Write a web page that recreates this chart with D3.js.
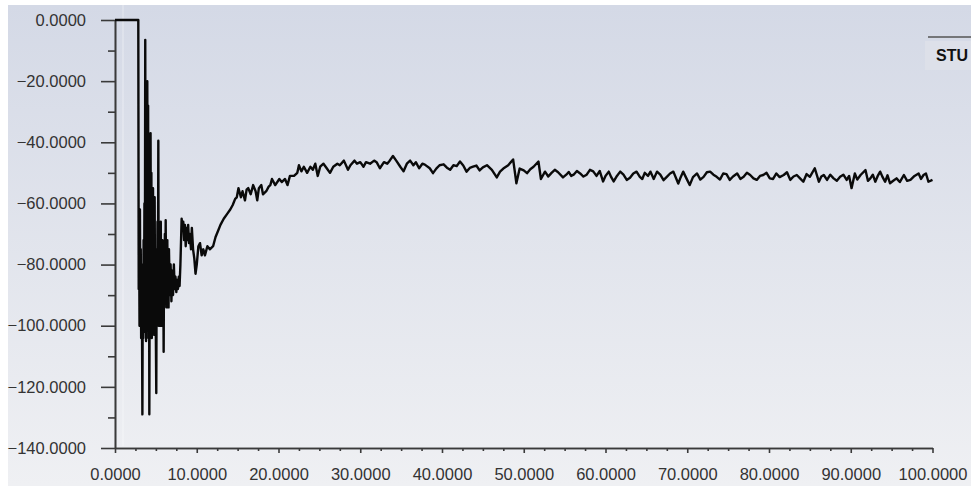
<!DOCTYPE html>
<html>
<head>
<meta charset="utf-8">
<script src="https://cdn.jsdelivr.net/npm/d3@7"></script>
<style>
  html, body { margin: 0; padding: 0; background: #ffffff; }
  svg { display: block; }
</style>
</head>
<body>
<svg id="chart" width="971" height="486"></svg>
<script>
// ---- data: [flow time, value] ----
const pressureReadings = [
  [0, 0], [2.85, 0],
  [2.9, -88], [2.95, -70], [3.0, -100], [3.05, -62], [3.1, -96], [3.15, -75], [3.2, -104], [3.25, -80],
  [3.3, -98], [3.35, -129], [3.4, -85], [3.45, -104], [3.5, -72], [3.55, -100], [3.6, -60], [3.65, -102],
  [3.7, -6.5], [3.75, -90], [3.8, -105], [3.85, -30], [3.9, -95], [3.95, -20], [4.0, -100], [4.05, -28],
  [4.1, -104], [4.15, -45], [4.2, -129], [4.25, -80], [4.3, -102], [4.35, -37], [4.4, -98], [4.45, -50],
  [4.5, -104], [4.55, -66], [4.6, -98], [4.65, -55], [4.7, -100], [4.75, -72], [4.8, -103], [4.85, -58],
  [4.9, -96], [4.95, -75], [5.0, -104], [5.05, -122], [5.1, -80], [5.15, -98], [5.2, -66], [5.25, -92],
  [5.3, -39.5], [5.35, -100], [5.4, -70], [5.45, -95], [5.5, -75], [5.55, -100], [5.6, -66], [5.65, -92],
  [5.7, -78], [5.75, -100], [5.8, -72], [5.85, -95], [5.9, -80], [5.95, -108.5], [6.0, -78], [6.05, -94],
  [6.1, -70], [6.15, -92], [6.2, -65.5], [6.25, -88], [6.3, -76], [6.35, -94], [6.4, -72], [6.45, -90],
  [6.5, -78], [6.55, -94], [6.6, -75], [6.7, -90], [6.8, -80], [6.9, -92], [7.0, -82], [7.1, -90],
  [7.2, -80], [7.3, -88], [7.4, -84], [7.5, -89], [7.6, -85], [7.7, -88], [7.8, -84], [7.9, -87],
  [8.0, -80], [8.15, -65], [8.25, -68], [8.35, -66], [8.45, -72], [8.55, -67], [8.65, -74], [8.75, -68],
  [8.85, -72], [8.95, -67], [9.05, -73], [9.15, -70], [9.3, -75], [9.4, -68], [9.55, -75], [9.7, -78],
  [9.85, -83], [10.0, -80], [10.2, -74], [10.4, -73], [10.6, -77], [10.8, -75], [11.0, -77], [11.3, -74],
  [11.6, -75], [12.0, -74], [12.3, -71], [12.6, -69], [12.9, -67], [13.3, -65], [13.7, -63.5], [14.1, -62],
  [14.4, -60.5], [14.7, -58.5], [14.9, -58], [15.1, -55], [15.4, -58], [15.6, -56], [15.9, -59], [16.1, -55.5],
  [16.3, -55], [16.6, -57], [16.9, -54], [17.2, -56], [17.4, -59], [17.6, -55], [17.9, -54], [18.1, -57],
  [18.5, -56], [18.8, -54.5], [19.0, -54], [19.2, -52], [19.6, -54], [20.1, -52], [20.4, -53], [20.8, -52],
  [21.1, -54], [21.4, -51], [21.9, -51], [22.3, -50], [22.5, -47.5], [22.8, -49.5], [23.1, -48], [23.5, -50],
  [23.9, -48], [24.2, -49], [24.5, -47], [24.8, -51], [25.1, -48], [25.5, -47], [25.9, -48.5], [26.3, -50],
  [26.7, -48], [27.2, -47], [27.5, -47.5], [28.0, -46], [28.5, -49], [28.8, -47.5], [29.3, -46], [29.6, -47],
  [30.0, -46.5], [30.4, -48], [30.7, -46.5], [31.2, -47], [31.7, -46], [32.0, -46.5], [32.4, -48.5], [32.9, -46.5],
  [33.3, -47], [33.6, -46], [34.0, -44.5], [34.4, -46], [34.9, -48], [35.3, -49.5], [35.7, -47], [36.1, -46],
  [36.5, -47.5], [36.8, -46.5], [37.2, -48.5], [37.6, -47], [37.9, -47.3], [38.5, -48.5], [38.9, -50.1], [39.3, -48.6],
  [39.7, -47.5], [40.2, -47.2], [40.6, -48.3], [41.0, -49.0], [41.4, -47.5], [41.8, -47.8], [42.2, -46.3], [42.6, -47.6],
  [43.0, -49.6], [43.4, -48.4], [43.8, -48], [44.2, -47.6], [44.6, -49.2], [45.0, -48.2], [45.5, -47.5], [46.1, -49],
  [46.7, -51.5], [47.1, -49.6], [47.5, -48.6], [48.1, -47.5], [48.7, -45.6], [49.1, -53.4], [49.5, -48.6], [50.0, -49.2],
  [50.4, -50.1], [50.8, -48.8], [51.2, -48], [51.8, -46.3], [52.1, -52], [52.6, -49.6], [53.0, -51.2], [53.4, -50],
  [53.8, -49.0], [54.2, -49.8], [54.8, -51.5], [55.2, -50.6], [55.5, -49.7], [55.8, -51.0], [56.1, -50.6], [56.5, -49.4],
  [56.9, -50.2], [57.3, -51.2], [57.7, -50.6], [58.1, -49.0], [58.5, -49.5], [58.9, -51.0], [59.3, -49.4], [59.7, -52.8],
  [60.0, -51.0], [60.4, -49.6], [60.7, -51.4], [61.0, -52.8], [61.4, -51.0], [61.8, -49.6], [62.2, -50.6], [62.6, -52.3],
  [63.0, -51.6], [63.4, -50.2], [63.8, -49.6], [64.2, -51.3], [64.5, -52.0], [64.8, -50], [65.2, -51.0], [65.5, -49.6],
  [65.9, -52], [66.3, -49.6], [66.7, -50.6], [67.1, -52.4], [67.5, -51.3], [67.9, -50.2], [68.3, -49.6], [68.9, -53.5],
  [69.2, -51.4], [69.5, -49.6], [69.9, -51.8], [70.3, -54], [70.7, -51.4], [71.2, -50.2], [71.6, -52.2], [72.0, -51.3],
  [72.4, -49.8], [72.8, -49.6], [73.2, -50.6], [73.6, -51.3], [74.0, -52.2], [74.4, -50.2], [74.8, -50.4], [75.2, -52.3],
  [75.6, -51.2], [76.1, -50.2], [76.5, -52.0], [76.9, -51.3], [77.3, -50.0], [77.7, -50.7], [78.1, -51.8], [78.5, -52.3],
  [78.9, -51.0], [79.3, -50.7], [79.7, -50.0], [80.1, -51.8], [80.5, -52.0], [80.9, -50.2], [81.3, -51.4], [81.8, -50.7],
  [82.2, -49.8], [82.6, -52.3], [83.0, -51.2], [83.4, -50.7], [83.8, -51.8], [84.2, -52.9], [84.6, -50.4], [85.0, -51.3],
  [85.6, -48.5], [86.1, -52.9], [86.4, -51.2], [86.7, -50.7], [87.1, -52.3], [87.5, -50.6], [87.9, -51.8], [88.3, -52.6],
  [88.7, -51.3], [89.1, -50.6], [89.5, -52.3], [89.8, -51.0], [90.1, -55], [90.5, -50.2], [90.8, -52.2], [91.2, -50.7],
  [91.8, -49.1], [92.1, -52.6], [92.4, -51.8], [92.7, -50.6], [93.0, -52.9], [93.3, -51.0], [93.6, -49.6], [93.9, -51.4],
  [94.2, -52.9], [94.5, -50.8], [94.8, -53.4], [95.2, -52.6], [95.6, -51.8], [96.0, -53.0], [96.5, -50.7], [96.9, -52.6],
  [97.3, -52.3], [97.8, -51.0], [98.3, -50.2], [98.6, -52.0], [98.9, -50.7], [99.2, -50.2], [99.5, -52.9], [100.0, -52.3]
];
const xMajorTicks = [0, 10, 20, 30, 40, 50, 60, 70, 80, 90, 100];
const xMinorTicks = [2.5, 5, 7.5, 12.5, 15, 17.5, 22.5, 25, 27.5, 32.5, 35, 37.5, 42.5, 45, 47.5, 52.5, 55, 57.5,
  62.5, 65, 67.5, 72.5, 75, 77.5, 82.5, 85, 87.5, 92.5, 95, 97.5];
const yMajorTicks = [0, -20, -40, -60, -80, -100, -120, -140];
const yMinorTicks = [-10, -30, -50, -70, -90, -110, -130];
const legendLabel = "STU";

// ---- drawing ----
const svg = d3.select("#chart");
const W = 971, H = 486;

const defs = svg.append("defs");
const grad = defs.append("linearGradient").attr("id", "bg").attr("x1", 0).attr("y1", 0).attr("x2", 0).attr("y2", 1);
grad.append("stop").attr("offset", "0%").attr("stop-color", "#d4d9e6");
grad.append("stop").attr("offset", "100%").attr("stop-color", "#eff0f3");

svg.append("rect").attr("x", 0).attr("y", 0).attr("width", W).attr("height", H).attr("fill", "#ffffff");
svg.append("rect").attr("x", 8).attr("y", 5).attr("width", W - 8).attr("height", H - 5).attr("fill", "url(#bg)");

const x = d3.scaleLinear().domain([0, 100]).range([115, 932.5]);
const y = d3.scaleLinear().domain([-140, 0]).range([448, 20]);

// faint vertical stripe seen in the reference
svg.append("line").attr("x1", 123).attr("x2", 123).attr("y1", 5).attr("y2", 446)
  .attr("stroke", "#ffffff").attr("stroke-opacity", 0.45).attr("stroke-width", 1);

const fmt = d3.format(".4f");
const axisColor = "#3a3a3a";
const font = "'Liberation Sans', Arial, sans-serif";

function styleAxis(g) {
  g.select(".domain").attr("stroke", axisColor).attr("stroke-width", 1.6);
  g.selectAll(".tick line").attr("stroke", axisColor).attr("stroke-width", 1.6);
  g.selectAll(".tick text").attr("fill", "#333333").style("font-family", font).style("font-size", "16.5px");
}

// y axis minor
svg.append("g").attr("transform", `translate(${x(0)},0)`)
  .call(d3.axisLeft(y).tickValues(yMinorTicks).tickSize(7).tickSizeOuter(0).tickFormat(""))
  .call(styleAxis);
// y axis major
svg.append("g").attr("transform", `translate(${x(0)},0)`)
  .call(d3.axisLeft(y).tickValues(yMajorTicks).tickSize(14).tickSizeOuter(0).tickPadding(15).tickFormat(fmt))
  .call(styleAxis);

// x axis minor
svg.append("g").attr("transform", `translate(0,${y(-140)})`)
  .call(d3.axisBottom(x).tickValues(xMinorTicks).tickSize(3).tickSizeOuter(0).tickFormat(""))
  .call(styleAxis);
// x axis major
svg.append("g").attr("transform", `translate(0,${y(-140)})`)
  .call(d3.axisBottom(x).tickValues(xMajorTicks).tickSize(5).tickSizeOuter(0).tickPadding(15).tickFormat(fmt))
  .call(styleAxis);

// data line
svg.append("path")
  .datum(pressureReadings)
  .attr("fill", "none")
  .attr("stroke", "#0a0a0a")
  .attr("stroke-width", 2.4)
  .attr("stroke-linejoin", "round")
  .attr("d", d3.line().x(d => x(d[0])).y(d => y(d[1])));

// legend
svg.append("rect").attr("x", 925).attr("y", 41).attr("width", 46).attr("height", 29)
  .attr("fill", "#dde0e9");
svg.append("line").attr("x1", 928).attr("x2", 971).attr("y1", 37).attr("y2", 37)
  .attr("stroke", "#555555").attr("stroke-width", 1.5);
svg.append("text").attr("x", 936).attr("y", 61).text(legendLabel)
  .attr("fill", "#111111").style("font-family", font).style("font-size", "16px").style("font-weight", "bold");
</script>
</body>
</html>
